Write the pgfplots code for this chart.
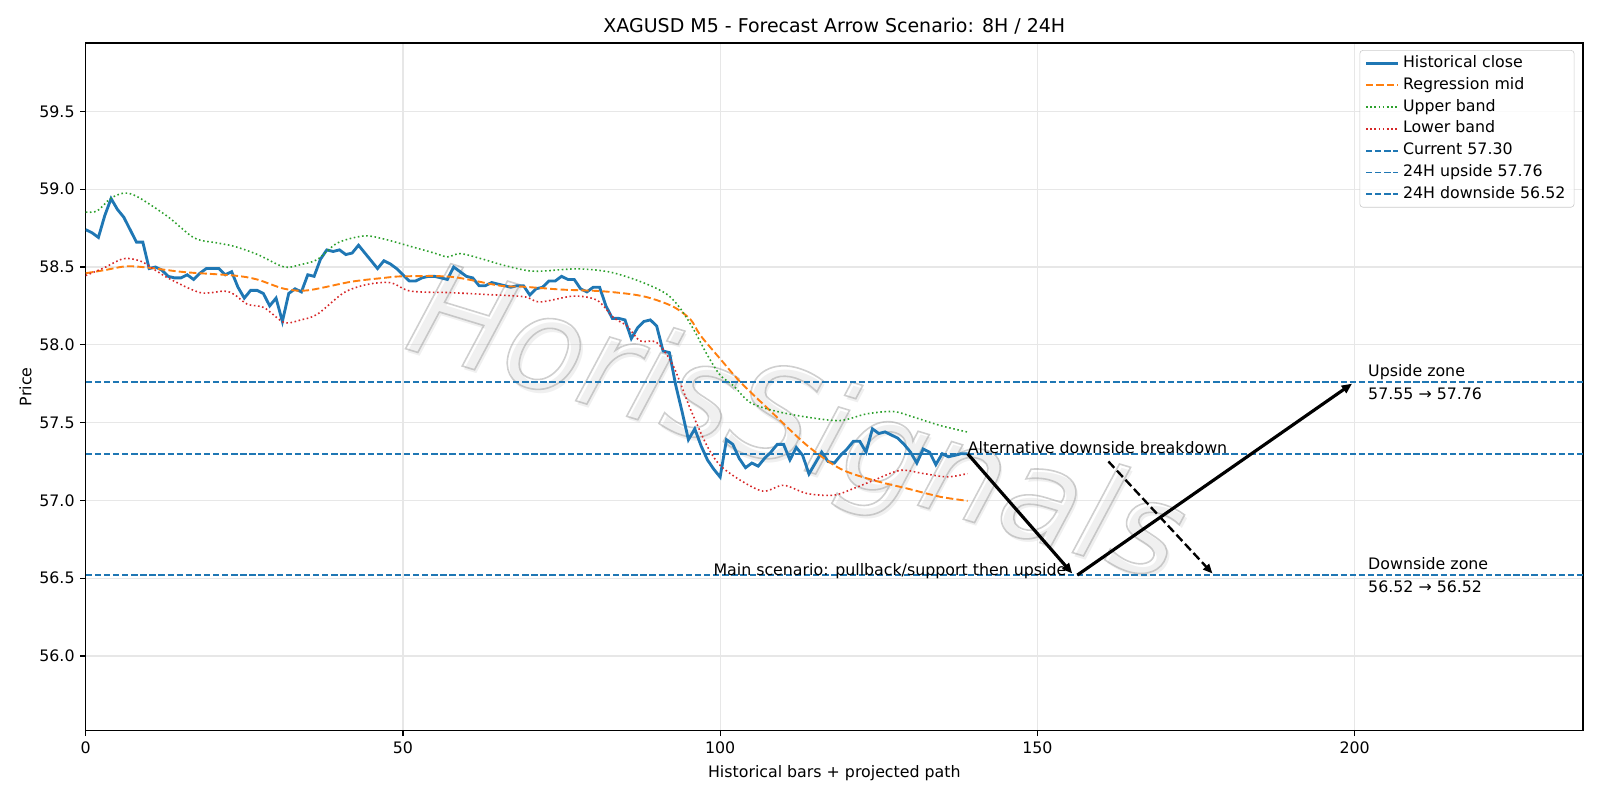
\documentclass[border=0pt]{standalone}
\usepackage{pgfplots}
\pgfplotsset{compat=1.18}
\usepackage{fontspec}
\setmainfont{DejaVu Sans}
\usetikzlibrary{arrows.meta}
\definecolor{c0}{HTML}{1F77B4}
\definecolor{c1}{HTML}{FF7F0E}
\definecolor{c2}{HTML}{2CA02C}
\definecolor{c3}{HTML}{D62728}
\definecolor{gridc}{HTML}{E7E7E7}
\definecolor{legc}{HTML}{CCCCCC}
\pgfkeys{/pgf/number format/assume math mode=true}
\begin{document}
\begin{tikzpicture}
\useasboundingbox (-0.75in,-0.607in) rectangle (13.25in,6.393in);
\begin{axis}[
  at={(0,0)}, anchor=south west,
  scale only axis, width=13.101in, height=6.017in,
  xmin=0, xmax=236, ymin=55.52, ymax=59.94,
  xtick={0,50,100,150,200},
  ytick={56.0,56.5,57.0,57.5,58.0,58.5,59.0,59.5},
  yticklabel style={/pgf/number format/.cd, fixed, fixed zerofill, precision=1},
  xticklabel style={/pgf/number format/.cd, fixed, precision=0},
  tick label style={font=\fontsize{10}{12}\selectfont},
  tick align=outside, tick pos=left, major tick length=3.5pt,
  every tick/.style={black, line width=0.8pt},
  axis line style={line width=0.8pt},
  grid=major, major grid style={color=gridc, line width=0.8pt},
  title={XAGUSD M5 - Forecast Arrow Scenario: 8H / 24H},
  title style={at={(axis description cs:0.5,1.0105)}, anchor=center, yshift=0pt, font=\fontsize{12}{14}\selectfont},
  xlabel={Historical bars + projected path},
  xlabel style={at={(axis description cs:0.5,-0.062)}, anchor=center, font=\fontsize{10}{12}\selectfont},
  ylabel={Price},
  ylabel style={at={(axis description cs:-0.0402,0.5)}, anchor=center, font=\fontsize{10}{12}\selectfont},
  legend cell align=left,
  legend image code/.code={\draw[#1] (0pt,0pt) -- (20pt,0pt);},
  legend style={at={(axis description cs:0.9943,0.9897)}, anchor=north east,
    draw=legc, rounded corners=2pt, fill=white, fill opacity=0.8, text opacity=1,
    font=\fontsize{10}{12}\selectfont, inner xsep=3pt, inner ysep=2.5pt, row sep=2.4pt,
    nodes={inner xsep=2.5pt, inner ysep=1pt, text height=7.3pt, text depth=2.1pt}},
]
% watermark
\node[rotate=-17, text=gray!40, opacity=0.3, font=\fontsize{82}{82}\selectfont\itshape]
  at (axis cs:112.2,57.425) {HorisSignals};
\node[rotate=-17, text=gray!75, opacity=0.5, font=\fontsize{82}{82}\selectfont\itshape]
  at (axis cs:111.8,57.45) {\special{pdf:literal direct 1 Tr 1 w}HorisSignals\special{pdf:literal direct 0 Tr}};

\addplot[c0, line width=1.8pt] coordinates {
(0,58.74)(1,58.72)(2,58.69)(3,58.83)(4,58.94)(5,58.87)(6,58.82)(7,58.74)(8,58.66)(9,58.66)
(10,58.49)(11,58.50)(12,58.48)(13,58.44)(14,58.43)(15,58.43)(16,58.45)(17,58.42)(18,58.46)(19,58.49)
(20,58.49)(21,58.49)(22,58.45)(23,58.47)(24,58.37)(25,58.30)(26,58.35)(27,58.35)(28,58.33)(29,58.25)
(30,58.30)(31,58.15)(32,58.33)(33,58.36)(34,58.34)(35,58.45)(36,58.44)(37,58.55)(38,58.61)(39,58.60)
(40,58.61)(41,58.58)(42,58.59)(43,58.64)(44,58.59)(45,58.54)(46,58.49)(47,58.54)(48,58.52)(49,58.49)
(50,58.45)(51,58.41)(52,58.41)(53,58.43)(54,58.44)(55,58.44)(56,58.43)(57,58.42)(58,58.50)(59,58.47)
(60,58.44)(61,58.43)(62,58.38)(63,58.38)(64,58.40)(65,58.39)(66,58.38)(67,58.37)(68,58.38)(69,58.38)
(70,58.32)(71,58.36)(72,58.37)(73,58.41)(74,58.41)(75,58.44)(76,58.42)(77,58.42)(78,58.36)(79,58.34)
(80,58.37)(81,58.37)(82,58.25)(83,58.17)(84,58.17)(85,58.16)(86,58.04)(87,58.11)(88,58.15)(89,58.16)
(90,58.12)(91,57.96)(92,57.95)(93,57.74)(94,57.57)(95,57.39)(96,57.46)(97,57.35)(98,57.26)(99,57.20)
(100,57.15)(101,57.39)(102,57.36)(103,57.27)(104,57.21)(105,57.24)(106,57.22)(107,57.27)(108,57.31)(109,57.36)
(110,57.36)(111,57.26)(112,57.34)(113,57.29)(114,57.17)(115,57.24)(116,57.31)(117,57.25)(118,57.24)(119,57.29)
(120,57.33)(121,57.38)(122,57.38)(123,57.31)(124,57.46)(125,57.43)(126,57.44)(127,57.42)(128,57.40)(129,57.36)
(130,57.31)(131,57.24)(132,57.33)(133,57.31)(134,57.23)(135,57.30)(136,57.28)(137,57.29)(138,57.30)(139,57.30)
};
\addlegendentry{Historical close}

\addplot[c1, line width=1.2pt, dash pattern=on 4.6pt off 2pt, smooth] coordinates {
(0,58.46)(3,58.48)(6.5,58.505)(10,58.495)(15.6,58.467)(23.4,58.445)(27,58.42)(31.3,58.36)(35,58.35)
(41.8,58.405)(47,58.43)(50,58.44)(57.6,58.437)(65.3,58.38)(69.1,58.373)(75,58.355)(81.1,58.345)
(86,58.325)(89,58.30)(92.6,58.245)(95.3,58.164)(96.9,58.06)(100,57.91)(103.2,57.76)(108.4,57.556)
(113.7,57.353)(118.9,57.204)(124.2,57.129)(129.5,57.076)(134.7,57.023)(139,56.997)
};
\addlegendentry{Regression mid}

\addplot[c2, line width=1pt, dash pattern=on 1pt off 1.65pt, smooth] coordinates {
(0,58.853)(1.8,58.86)(3.9,58.94)(6,58.975)(8.1,58.953)(12.9,58.825)(17.1,58.687)(20.7,58.655)
(23.4,58.633)(27.1,58.58)(31.3,58.50)(33.9,58.516)(36.5,58.548)(39.7,58.655)(43.9,58.70)(47,58.68)
(50.2,58.644)(54.9,58.59)(57,58.565)(59.1,58.586)(62.8,58.548)(66,58.51)(70.6,58.473)(77.4,58.488)
(82.7,58.467)(87.9,58.399)(91.6,58.325)(93.7,58.235)(95.8,58.10)(97.9,57.94)(100,57.805)(102.1,57.737)
(104.7,57.63)(108.4,57.577)(113.7,57.535)(118.9,57.513)(123.1,57.556)(127.3,57.571)(130.5,57.535)
(134.7,57.481)(139,57.439)
};
\addlegendentry{Upper band}

\addplot[c3, line width=1pt, dash pattern=on 1pt off 1.65pt, smooth] coordinates {
(0,58.445)(2.9,58.495)(6,58.554)(8.7,58.537)(10.8,58.484)(13.4,58.42)(18.1,58.335)(21.8,58.345)
(23.4,58.324)(25.5,58.26)(28.1,58.239)(31.3,58.143)(33.9,58.16)(36.5,58.196)(40.7,58.335)(44.4,58.388)
(48.1,58.399)(51.2,58.345)(57.6,58.335)(62.8,58.324)(69.1,58.309)(71.6,58.275)(76.9,58.313)(80.6,58.286)
(83.2,58.175)(85.3,58.121)(87.4,58.025)(90,58.015)(92.6,57.865)(95.3,57.588)(97.9,57.353)(100,57.225)
(103.2,57.129)(106.8,57.059)(110,57.097)(113.7,57.044)(117.9,57.033)(121,57.076)(124.2,57.129)
(128.4,57.193)(132.1,57.172)(135.8,57.151)(139,57.172)
};
\addlegendentry{Lower band}

\addplot[c0, line width=1.15pt, dash pattern=on 4pt off 1.75pt] coordinates {(0,57.30)(236,57.30)};
\addlegendentry{Current 57.30}
\addplot[c0, line width=1.15pt, dash pattern=on 4pt off 1.75pt] coordinates {(0,57.76)(236,57.76)};
\addlegendentry{24H upside 57.76}
\addplot[c0, line width=1.15pt, dash pattern=on 4pt off 1.75pt] coordinates {(0,56.52)(236,56.52)};
\addlegendentry{24H downside 56.52}

% scenario arrows
\addplot[forget plot, black, line width=2pt, -{Triangle[length=6.5pt,width=5.5pt]}] coordinates {(139,57.30)(155.5,56.53)};
\addplot[forget plot, black, line width=2pt, -{Triangle[length=6.5pt,width=5.5pt]}] coordinates {(156.3,56.52)(199.6,57.75)};
\addplot[forget plot, black, line width=1.5pt, dash pattern=on 5.5pt off 2.4pt, -{Triangle[length=6pt,width=5pt]}] coordinates {(161.2,57.25)(177.6,56.53)};

\node[anchor=base west, inner sep=0pt, font=\fontsize{10}{12}\selectfont] at (axis cs:139,57.30) {Alternative downside breakdown};
\node[anchor=base east, inner sep=0pt, font=\fontsize{10}{12}\selectfont] at (axis cs:154.6,56.52) {Main scenario: pullback/support then upside};
\node[anchor=west, inner sep=0pt, align=left, font=\fontsize{10}{14}\selectfont] at (axis cs:202.1,57.76) {Upside zone\\57.55 → 57.76};
\node[anchor=west, inner sep=0pt, align=left, font=\fontsize{10}{14}\selectfont] at (axis cs:202.1,56.52) {Downside zone\\56.52 → 56.52};
\end{axis}
\end{tikzpicture}
\end{document}
